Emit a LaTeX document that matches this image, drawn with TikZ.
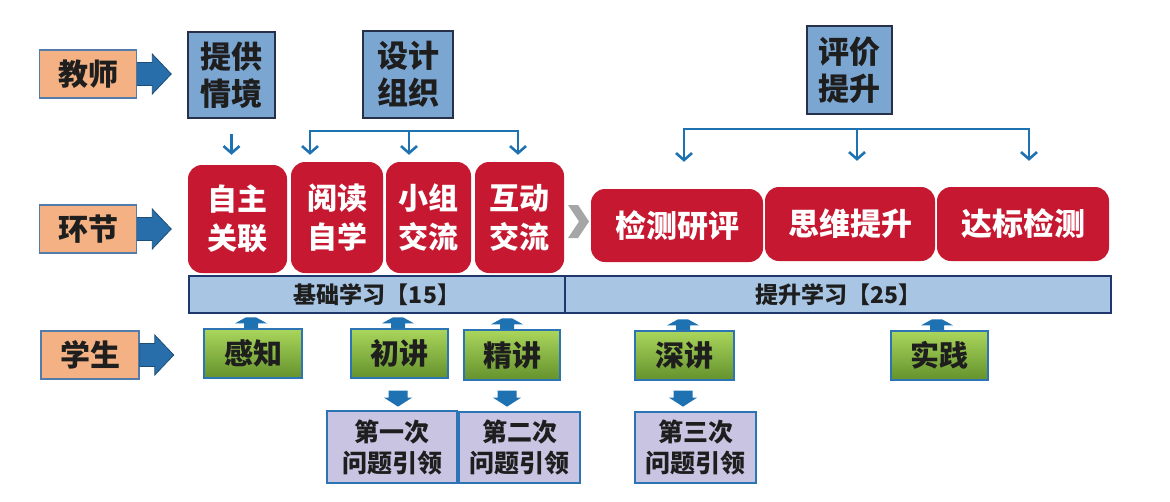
\documentclass[tikz,border=0pt]{standalone}
\usepackage{fontspec}
\setmainfont{Noto Sans CJK SC}
\usetikzlibrary{arrows.meta,calc}
\definecolor{lblfill}{RGB}{244,178,132}
\definecolor{lblborder}{RGB}{84,124,170}
\definecolor{tfill}{RGB}{124,166,210}
\definecolor{tborder}{RGB}{38,48,72}
\definecolor{redc}{RGB}{198,24,48}
\definecolor{barfill}{RGB}{168,198,228}
\definecolor{barborder}{RGB}{30,56,110}
\definecolor{gtop}{RGB}{170,214,92}
\definecolor{gbot}{RGB}{100,146,44}
\definecolor{gborder}{RGB}{44,116,180}
\definecolor{pfill}{RGB}{200,196,226}
\definecolor{arrc}{RGB}{30,114,178}
\definecolor{bigarrc}{RGB}{40,110,170}
\definecolor{txtd}{RGB}{30,30,30}
\definecolor{chev}{RGB}{166,166,166}
\newcommand\BigArr[1]{\draw[blockarr] ($(#1.east)+(0,-11.5)$) -- ++(15,0) -- ++(0,-8.5) -- ++(19,20) -- ++(-19,20) -- ++(0,-8.5) -- ++(-15,0) -- cycle;}
\newcommand\UpArr[1]{\fill[arrc] ($#1+(-7,0)$) -- ++(0,-5) -- ++(-9,0) -- ++(11,-6) -- ++(10,0) -- ++(11,6) -- ++(-9,0) -- ++(0,5) -- cycle;}
\newcommand\DnArr[1]{\fill[arrc] ($#1+(-9.5,0)$) -- ++(19,0) -- ++(0,7) -- ++(4.5,0) -- ++(-14,9) -- ++(-14,-9) -- ++(4.5,0) -- cycle;}
\begin{document}
\begin{tikzpicture}[x=1pt,y=-1pt,
  sz/.style n args={2}{minimum width=#1pt,minimum height=#2pt},
  lbl/.style={draw=lblborder,line width=1.5pt,fill=lblfill,minimum width=97pt,minimum height=48pt,inner sep=0pt,text=txtd,font=\fontsize{30}{36}\selectfont\bfseries},
  tbox/.style={draw=tborder,line width=1.5pt,fill=tfill,inner sep=0pt,align=center,text=txtd,font=\fontsize{31}{37}\selectfont\bfseries},
  redbox/.style={fill=redc,rounded corners=14pt,inner sep=0pt,text=white,align=center,font=\fontsize{30}{39}\selectfont\bfseries},
  barbox/.style={draw=barborder,line width=1.6pt,fill=barfill,inner sep=0pt,minimum height=37pt,text=txtd,font=\fontsize{23}{28}\selectfont\bfseries},
  gbox/.style={draw=gborder,line width=1.3pt,top color=gtop,bottom color=gbot,inner sep=0pt,text=txtd,font=\fontsize{29}{34}\selectfont\bfseries},
  pbox/.style={draw=gborder,line width=1.3pt,fill=pfill,inner sep=0pt,align=center,text=txtd,font=\fontsize{25}{31}\selectfont\bfseries},
  thin/.style={draw=arrc,line width=2.6pt,-{Straight Barb[length=7pt,width=16pt]}},
  bracket/.style={draw=arrc,line width=2.6pt,{Straight Barb[length=7pt,width=16pt]}-{Straight Barb[length=7pt,width=16pt]}},
  blockarr/.style={fill=bigarrc,draw=bigarrc!70!black,line width=0.8pt}
]
\useasboundingbox (0,0) rectangle (1170,501);
\fill[white] (0,0) rectangle (1170,501);

% row labels
\node[lbl] (tea) at (88,74) {教师};
\node[lbl] (hj) at (88,229) {环节};
\node[lbl,minimum width=98pt] (xs) at (90,355) {学生};
\BigArr{tea}
\BigArr{hj}
\BigArr{xs}

% teacher boxes
\node[tbox,sz={87}{86}] (tgqj) at (231.5,75) {提供\\情境};
\node[tbox,sz={90}{87}] (sjzz) at (408,74.5) {设计\\组织};
\node[tbox,sz={85}{88}] (pjts) at (849.5,70) {评价\\提升};

% red steps
\node[redbox,sz={99}{108}] (zzgl) at (237.5,219) {自主\\关联};
\node[redbox,sz={92}{111}] (ydzx) at (337,217.5) {阅读\\自学};
\node[redbox,sz={85}{111}] (xzjl) at (428.5,217.5) {小组\\交流};
\node[redbox,sz={89}{111}] (hdjl) at (519.5,217.5) {互动\\交流};
\node[redbox,sz={172}{73},font=\fontsize{31}{37}\selectfont\bfseries] (jcyp) at (677,225.5) {检测研评};
\node[redbox,sz={170}{74},font=\fontsize{31}{37}\selectfont\bfseries] (swts) at (850,224) {思维提升};
\node[redbox,sz={172}{74},font=\fontsize{31}{37}\selectfont\bfseries] (dbjc) at (1023,224) {达标检测};
\fill[chev] (568,205) -- (578,205) -- (589,221.5) -- (578,238) -- (568,238) -- (579,221.5) -- cycle;

% teacher arrows
\draw[thin,shorten <=15pt,shorten >=10pt] (tgqj.south) -- (tgqj.south |- zzgl.north);
\coordinate (s1) at ($(ydzx.north)+(-27,0)$);
\coordinate (s2) at ($(xzjl.north)+(-19.5,0)$);
\coordinate (s3) at ($(hdjl.north)+(-1.5,0)$);
\draw[bracket] ($(s1)+(0,-7)$) -- ($(s1)+(0,-31)$) -- ($(s3)+(0,-31)$) -- ($(s3)+(0,-7)$);
\draw[thin] ($(s2)+(0,-31)$) -- ($(s2)+(0,-7)$);
\coordinate (e1) at ($(jcyp.north)+(7,0)$);
\coordinate (e2) at ($(swts.north)+(7,0)$);
\coordinate (e3) at ($(dbjc.north)+(6,0)$);
\draw[bracket] ($(e1)+(0,-27)$) -- ($(e1)+(0,-60)$) -- ($(e3)+(0,-58)$) -- ($(e3)+(0,-26)$);
\draw[thin] ($(e2)+(0,-58)$) -- ($(e2)+(0,-26)$);

% bars
\node[barbox,minimum width=376pt] (bar1) at (377,294.5) {基础学习【15】};
\node[barbox,minimum width=546pt] (bar2) at (838,294.5) {提升学习【25】};

% student boxes
\node[gbox,sz={98}{49}] (gz) at (253,353.5) {感知};
\node[gbox,sz={97}{49}] (cj) at (399.5,353.5) {初讲};
\node[gbox,sz={96}{50}] (jj) at (512,355) {精讲};
\node[gbox,sz={99}{49}] (sj) at (684.5,355.5) {深讲};
\node[gbox,sz={97}{49}] (shij) at (939.5,355.5) {实践};
\UpArr{(gz.north)+(-2,0)}
\UpArr{(cj.north)+(-1.5,0)}
\UpArr{(jj.north)+(-5,0)}
\UpArr{(sj.north)+(-1.5,0)}
\UpArr{(shij.north)+(-2.5,0)}

% question boxes
\node[pbox,sz={130}{72}] (p1) at (392,447) {第一次\\问题引领};
\node[pbox,sz={121}{71}] (p2) at (519.5,447.5) {第二次\\问题引领};
\node[pbox,sz={121}{71}] (p3) at (695.5,447.5) {第三次\\问题引领};
\DnArr{(cj.south)+(-1.5,12)}
\DnArr{(jj.south)+(-5,10)}
\DnArr{(sj.south)+(-1.5,10)}
\end{tikzpicture}
\end{document}
